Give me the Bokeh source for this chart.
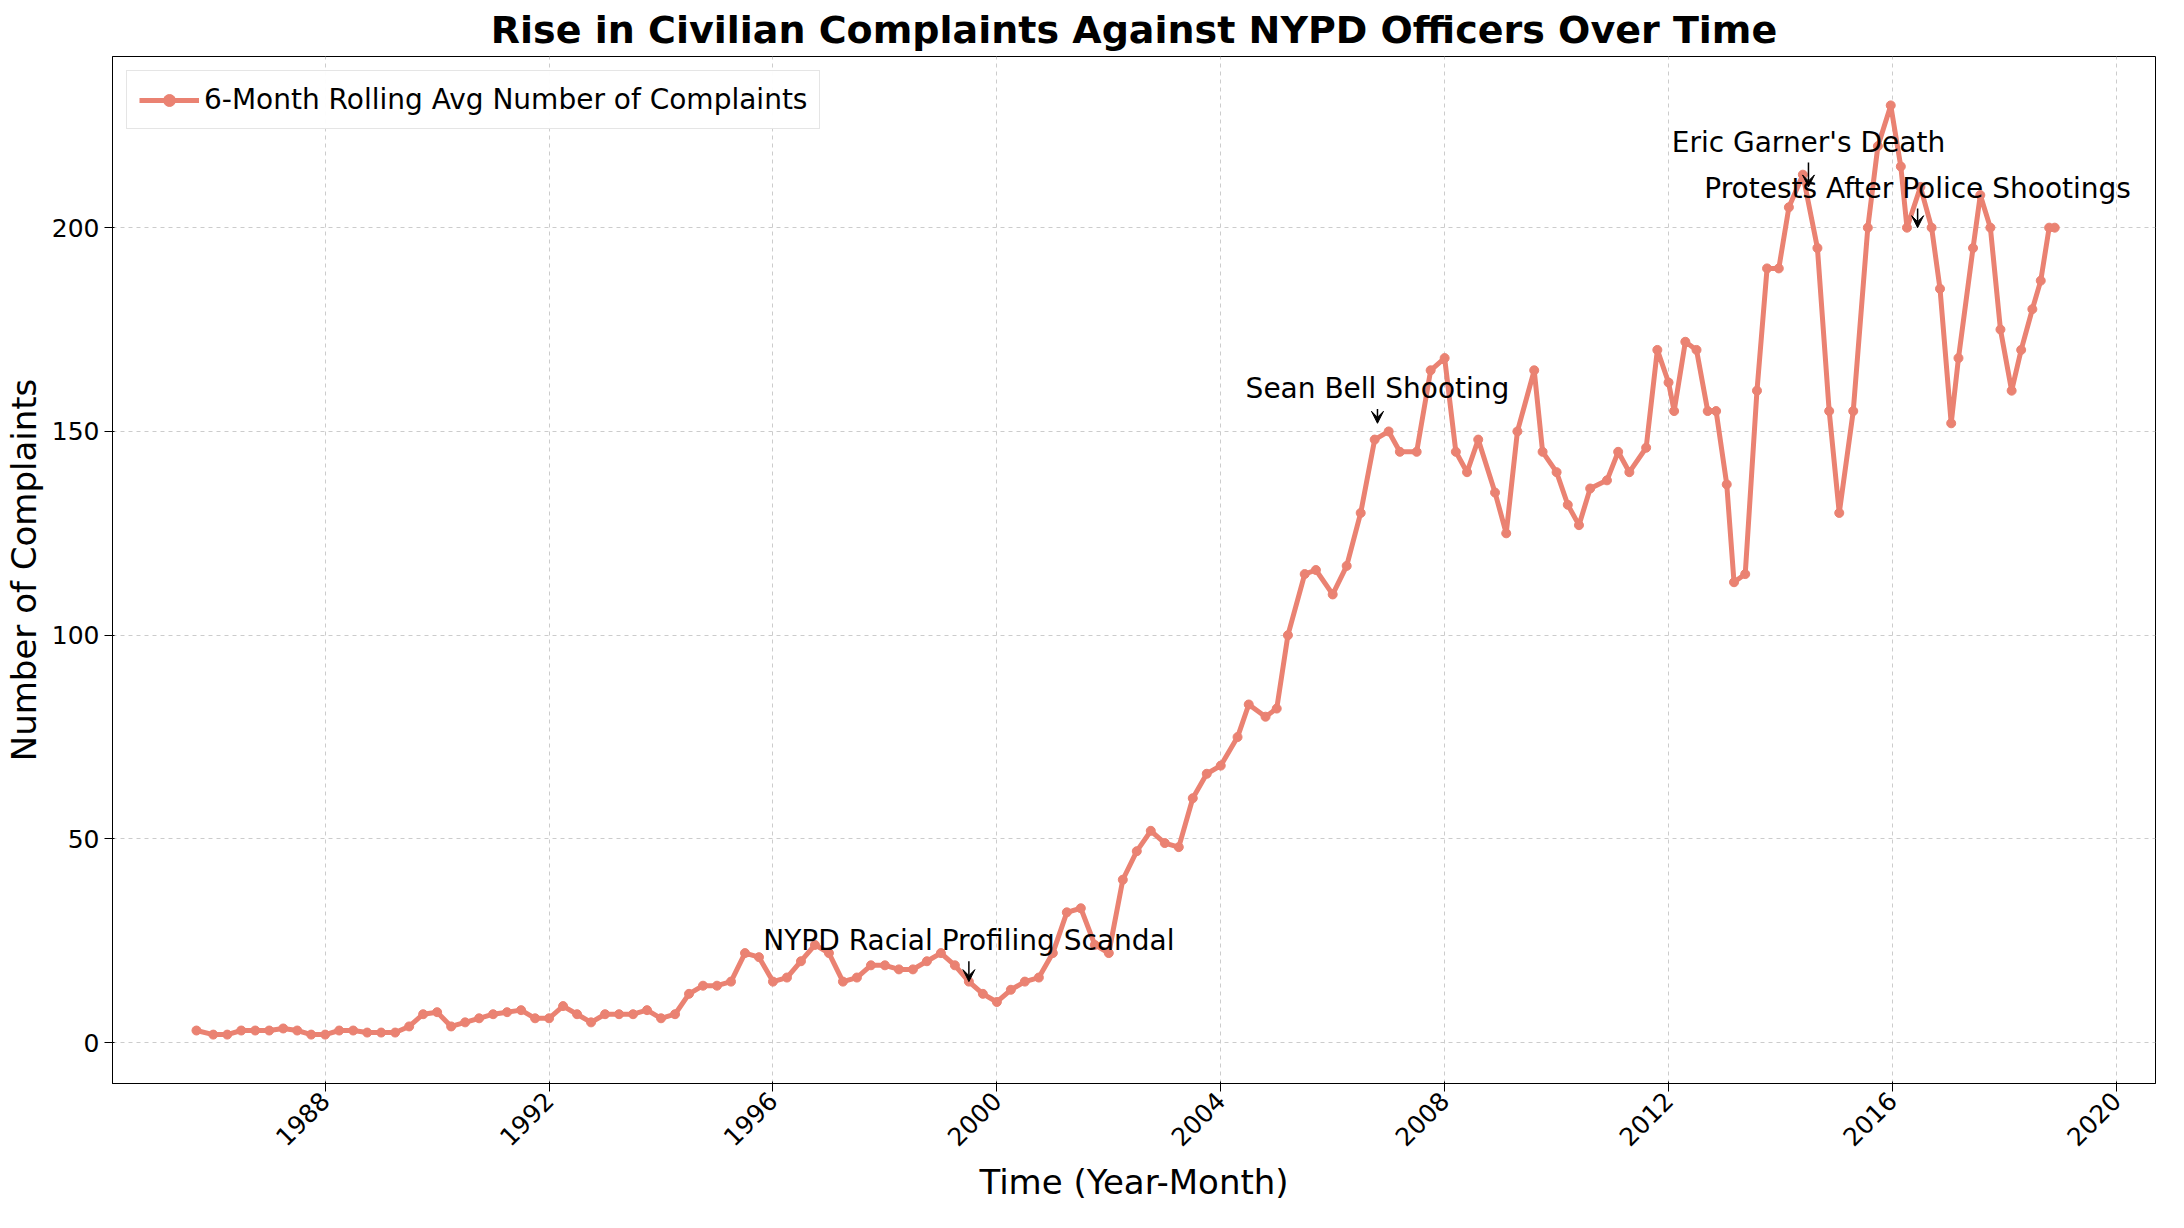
from bokeh.plotting import figure
from bokeh.models import ColumnDataSource, Arrow, VeeHead, Label, FixedTicker, Range1d, Legend, LegendItem
from bokeh.embed import file_html
from bokeh.resources import INLINE

years = [1985.7,1986.0,1986.25,1986.5,1986.75,1987.0,1987.25,1987.5,1987.75,1988.0,1988.25,1988.5,1988.75,1989.0,1989.25,1989.5,1989.75,1990.0,1990.25,1990.5,1990.75,1991.0,1991.25,1991.5,1991.75,1992.0,1992.25,1992.5,1992.75,1993.0,1993.25,1993.5,1993.75,1994.0,1994.25,1994.5,1994.75,1995.0,1995.25,1995.5,1995.75,1996.0,1996.25,1996.5,1996.75,1997.0,1997.25,1997.5,1997.75,1998.0,1998.25,1998.5,1998.75,1999.0,1999.25,1999.5,1999.75,2000.0,2000.25,2000.5,2000.75,2001.0,2001.25,2001.5,2001.75,2002.0,2002.25,2002.5,2002.75,2003.0,2003.25,2003.5,2003.75,
2004.0,2004.3,2004.5,2004.8,2005.0,2005.2,2005.5,2005.7,2006.0,2006.25,2006.5,2006.75,2007.0,2007.2,2007.5,2007.75,2008.0,2008.2,2008.4,2008.6,2008.9,2009.1,2009.3,2009.6,2009.75,2010.0,2010.2,2010.4,2010.6,2010.9,2011.1,2011.3,2011.6,2011.8,2012.0,2012.1,2012.3,2012.5,2012.7,2012.85,2013.04,2013.17,2013.37,2013.58,2013.76,2013.97,2014.15,2014.4,2014.66,2014.87,2015.05,2015.3,2015.56,2015.74,2015.97,2016.15,2016.26,2016.5,2016.7,2016.85,2017.05,2017.18,2017.44,2017.57,2017.75,2017.93,2018.13,2018.3,2018.5,2018.65,2018.8,2018.9]
complaints = [3,2,2,3,3,3,3.5,3,2,2,3,3,2.5,2.5,2.5,4,7,7.5,4,5,6,7,7.5,8,6,6,9,7,5,7,7,7,8,6,7,12,14,14,15,22,21,15,16,20,24,22,15,16,19,19,18,18,20,22,19,15,12,10,13,15,16,22,32,33,24,22,40,47,52,49,48,60,66,
68,75,83,80,82,100,115,116,110,117,130,148,150,145,145,165,168,145,140,148,135,125,150,165,145,140,132,127,136,138,145,140,146,170,162,155,172,170,155,155,137,113,115,160,190,190,205,213,195,155,130,155,200,220,230,215,200,210,200,185,152,168,195,208,200,175,160,170,180,187,200,200]
tick_years = [1988,1992,1996,2000,2004,2008,2012,2016,2020]
events = ["NYPD Racial Profiling Scandal","Sean Bell Shooting","Eric Garner's Death","Protests After Police Shootings"]
event_x = [1999.5,2006.8,2014.5,2016.45]
event_y = [15,152,210,200]
text_y = [25,160.5,221,209.7]

color = "#EA8272"
p = figure(width=2160, height=1205, output_backend="svg", toolbar_location=None,
           x_range=Range1d(1984.2, 2020.7), y_range=Range1d(-10, 242),
           title="Rise in Civilian Complaints Against NYPD Officers Over Time")
p.min_border_left = 60
p.title.align = "center"; p.title.text_font_size = "38px"
p.title.text_font = "DejaVu Sans"; p.title.text_font_style = "bold"; p.title.text_color = "black"
src = ColumnDataSource(dict(x=years, y=complaints))
l = p.line("x", "y", source=src, line_color=color, line_width=5)
c = p.scatter("x", "y", source=src, size=9, color=color)
leg = Legend(items=[LegendItem(label="6-Month Rolling Avg Number of Complaints", renderers=[l, c])],
             location="top_left", label_text_font="DejaVu Sans", label_text_font_size="28px",
             label_text_color="black", border_line_color="#cccccc", glyph_width=60, glyph_height=30,
             padding=12, margin=14)
p.add_layout(leg)
p.xaxis.ticker = FixedTicker(ticks=tick_years)
p.xaxis.major_label_orientation = 0.785
p.yaxis.ticker = FixedTicker(ticks=[0,50,100,150,200])
for ax in (p.xaxis, p.yaxis):
    ax.major_label_text_font = "DejaVu Sans"; ax.major_label_text_font_size = "25px"
    ax.major_label_text_color = "black"; ax.axis_label_text_color = "black"
    ax.axis_label_text_font = "DejaVu Sans"; ax.axis_label_text_font_size = "34px"
    ax.axis_label_text_font_style = "normal"
    ax.minor_tick_line_color = None
    ax.major_tick_line_color = "black"; ax.axis_line_color = "black"
    ax.major_tick_out = 8
p.xaxis.axis_label = "Time (Year-Month)"
p.yaxis.axis_label = "Number of Complaints"
p.xgrid.grid_line_dash = "4 4"; p.ygrid.grid_line_dash = "4 4"
p.xgrid.grid_line_color = "#cccccc"; p.ygrid.grid_line_color = "#cccccc"
p.outline_line_color = "black"
for name, ex, ey, ty in zip(events, event_x, event_y, text_y):
    p.add_layout(Label(x=ex, y=ty, text=name, text_align="center", text_baseline="middle",
                       text_font="DejaVu Sans", text_font_size="28px", text_color="black"))
    p.add_layout(Arrow(x_start=ex, y_start=ty-5, x_end=ex, y_end=ey,
                       end=VeeHead(size=12, fill_color="black", line_color="black"), line_width=1.5))
open("out.html", "w").write(file_html(p, INLINE))
